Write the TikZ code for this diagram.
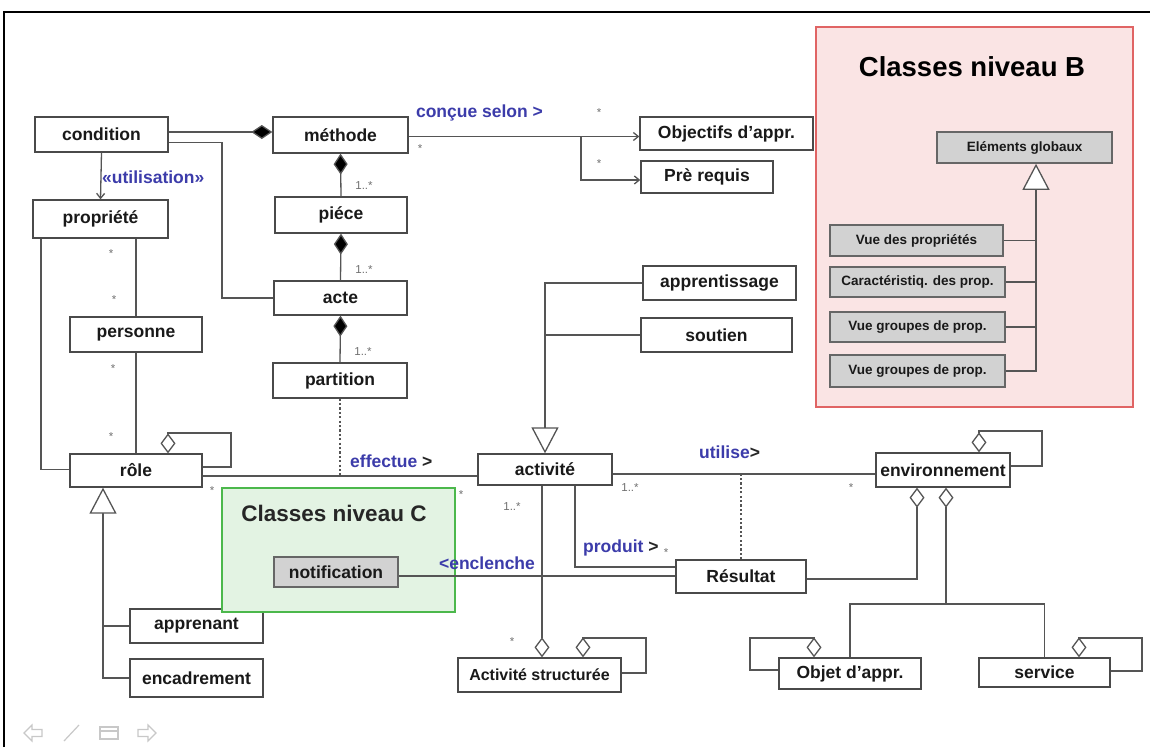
\documentclass[tikz,border=0pt]{standalone}
\usepackage{fontspec}
\setmainfont{Liberation Sans}
\usetikzlibrary{arrows.meta}
\definecolor{lnc}{HTML}{555555}
\definecolor{bdc}{HTML}{4A4A4A}
\definecolor{lblue}{RGB}{60,60,170}
\definecolor{multc}{HTML}{707070}
\definecolor{redfill}{HTML}{FAE4E4}
\definecolor{redline}{HTML}{E06464}
\definecolor{greenfill}{HTML}{E3F3E3}
\definecolor{greenline}{HTML}{4CB84C}
\definecolor{grayfill}{HTML}{D2D2D2}
\definecolor{navc}{HTML}{C8C8C8}
\newcommand\clsfont{\bfseries\fontsize{17.5}{20}\selectfont}
\newcommand\smcls{\bfseries\fontsize{13.5}{16}\selectfont}
\newcommand\lblfont{\bfseries\fontsize{17.5}{20}\selectfont}
\newcommand\multfont{\fontsize{11.5}{13}\selectfont}
\tikzset{
  cls/.style={draw=bdc, line width=1.3pt, fill=white, inner sep=0pt, font=\clsfont, text=black!90},
  gcls/.style={draw=black!60, line width=1.6pt, fill=grayfill, inner sep=0pt, font=\smcls, text=black!90},
  conn/.style={draw=lnc, line width=1.3pt},
  comp/.style={conn, -{Diamond[length=21pt,width=14pt,fill=black]}},
  agg/.style={conn, -{Diamond[open,length=20pt,width=15pt,fill=white]}},
  inh/.style={conn, -{Triangle[open,length=26pt,width=27pt,fill=white]}},
  nav/.style={conn, -{Straight Barb[length=5pt,width=8pt]}},
  dots/.style={draw=lnc, line width=1.6pt, dash pattern=on 2.2pt off 2.2pt},
  lbl/.style={font=\lblfont, text=lblue, inner sep=0pt},
  mult/.style={font=\multfont, text=multc, inner sep=0pt},
  navicon/.style={draw=navc, line width=1.2pt}
}
\begin{document}
\begin{tikzpicture}[x=1pt,y=-1pt]
\useasboundingbox (0,0) rectangle (1150,747);
\fill[white] (0,0) rectangle (1150,747);
% frame
\draw[line width=2.2pt, black] (4,747) -- (4,12) -- (1150,12);

% group boxes
\node[draw=redline, line width=1.8pt, fill=redfill, minimum width=317pt, minimum height=380pt, inner sep=0pt] (grpB) at (974.5,217) {};
\node[font=\bfseries\fontsize{27.5}{30}\selectfont, inner sep=0pt] (titB) at (972,67) {Classes niveau B};

% main classes
\node[cls, minimum width=133pt, minimum height=35pt] (condition) at (101.5,134.5) {condition};
\node[cls, minimum width=135pt, minimum height=36pt] (methode) at (340.5,135) {méthode};
\node[cls, minimum width=135pt, minimum height=38pt] (propriete) at (100.5,219) {propriété};
\node[cls, minimum width=132pt, minimum height=36pt] (piece) at (341,215) {piéce};
\node[cls, minimum width=133pt, minimum height=34pt] (acte) at (340.5,298) {acte};
\node[cls, minimum width=132pt, minimum height=35pt] (personne) at (136,334.5) {personne};
\node[cls, minimum width=134pt, minimum height=35pt] (partition) at (340,380.5) {partition};
\node[cls, minimum width=132pt, minimum height=33pt] (role) at (136,470.5) {rôle};
\node[cls, minimum width=173pt, minimum height=33pt] (objectifs) at (726.5,133.5) {Objectifs d'appr.};
\node[cls, minimum width=132pt, minimum height=32pt] (prereq) at (707,177) {Prè requis};
\node[cls, minimum width=153pt, minimum height=34pt] (apprentissage) at (719.5,283) {apprentissage};
\node[cls, minimum width=151pt, minimum height=34pt] (soutien) at (716.5,335) {soutien};
\node[cls, minimum width=134pt, minimum height=31pt] (activite) at (545,469.5) {activité};
\node[cls, minimum width=134pt, minimum height=34pt] (env) at (943,470) {environnement};
\node[cls, minimum width=130pt, minimum height=33pt] (resultat) at (741,576.5) {Résultat};
\node[cls, minimum width=142pt, minimum height=31pt] (objet) at (850,673.5) {Objet d'appr.};
\node[cls, minimum width=131pt, minimum height=29pt] (service) at (1044.5,672.5) {service};
\node[cls, minimum width=163pt, minimum height=34pt, font=\bfseries\fontsize{16}{19}\selectfont] (as) at (539.5,675) {Activité structurée};
\node[cls, minimum width=133pt, minimum height=34pt] (apprenant) at (196.5,626) {apprenant};
\node[cls, minimum width=133pt, minimum height=38pt] (encadrement) at (196.5,678) {encadrement};

% level B classes
\node[gcls, minimum width=175pt, minimum height=31pt] (globaux) at (1024.5,147.5) {Eléments globaux};
\node[gcls, minimum width=173pt, minimum height=31pt] (vprop) at (916.5,240.5) {Vue des propriétés};
\node[gcls, minimum width=175pt, minimum height=30pt] (carac) at (917.5,282) {Caractéristiq. des prop.};
\node[gcls, minimum width=175pt, minimum height=30pt] (vgrp1) at (917.5,327) {Vue groupes de prop.};
\node[gcls, minimum width=175pt, minimum height=32pt] (vgrp2) at (917.5,371) {Vue groupes de prop.};
\coordinate (bx) at (1036,300);
\draw[inh] (vgrp2.east) -| (globaux.south-|bx);
\draw[conn] (vprop.east) -- (vprop.east-|bx);
\draw[conn] (carac.east) -- (carac.east-|bx);
\draw[conn] (vgrp1.east) -- (vgrp1.east-|bx);

% connectors top
\coordinate (cm) at (200,132);
\draw[comp] (condition.east|-cm) -- (methode.west|-cm);
\coordinate (ca) at (222,298);
\draw[conn] ([yshift=-8pt]condition.east) -| (ca) -- (acte.west);
\draw[nav] (condition.south) -- (propriete.north);
\node[lbl, anchor=west] (utilisation) at (102,177) {«utilisation»};
\draw[comp] (piece.north) -- (methode.south);
\draw[comp] (acte.north) -- (piece.south);
\draw[comp] (partition.north) -- (acte.south);
\node[mult] (m1) at (364,186) {1..*};
\node[mult] (m2) at (364,270) {1..*};
\node[mult] (m3) at (363,352) {1..*};

\coordinate (mo) at (500,136.5);
\coordinate (br) at (581,136.5);
\draw[nav] (methode.east|-mo) -- (objectifs.west|-mo);
\coordinate (pr) at (600,180);
\draw[nav] (br) |- (prereq.west|-pr);
\node[lbl] (concue) at (479.5,113) {conçue selon >};
\node[mult] (s1) at (599,113) {*};
\node[mult] (s2) at (420,149) {*};
\node[mult] (s3) at (599,164) {*};

% left column
\draw[conn] ([xshift=-59.5pt]propriete.south) |- ([yshift=1pt]role.west);
\draw[conn] (propriete.south-|personne.north) -- (personne.north);
\draw[conn] (personne.south) -- (role.north);
\node[mult] (s4) at (111,254) {*};
\node[mult] (s5) at (114,300) {*};
\node[mult] (s6) at (113,369) {*};
\node[mult] (s7) at (111,437) {*};
\draw[agg] ([yshift=3.5pt]role.east) -| (231,433) -| ([xshift=32pt]role.north);
\draw[inh] (encadrement.west) -| ([xshift=-33pt]role.south);
\draw[conn] (apprenant.west) -- ++(-27,0);

% role - activite
\coordinate (ra) at (300,476);
\draw[conn] (role.east|-ra) -- (activite.west|-ra);
\draw[dots] (partition.south) -- (partition.south|-ra);
\node[lbl, anchor=west] (effectue) at (350,461) {effectue \textcolor{black!85}{>}};
\node[mult] (s8) at (212,491) {*};

% green group box C
\node[draw=greenline, line width=1.8pt, fill=greenfill, minimum width=233pt, minimum height=124pt, inner sep=0pt] (grpC) at (338.5,550) {};
\node[font=\bfseries\fontsize{22.5}{26}\selectfont, inner sep=0pt, text=black!85] (titC) at (334,513) {Classes niveau C};
\node[gcls, minimum width=124pt, minimum height=30pt, font=\clsfont] (notification) at (336,572) {notification};
\node[mult] (s9) at (461,495) {*};

% inheritance to activite
\draw[inh] (apprentissage.west) -| (activite.north);
\draw[conn] (soutien.west) -- (soutien.west-|activite.north);

% activite - environnement
\coordinate (ae) at (700,474);
\draw[conn] (activite.east|-ae) -- (env.west|-ae);
\draw[dots] (resultat.north) -- (resultat.north|-ae);
\node[lbl, anchor=west] (utilise) at (699,452) {utilise\textcolor{black!85}{>}};
\node[mult] (m4) at (630,488) {1..*};
\node[mult] (s10) at (851,488) {*};

% activite - resultat (produit)
\draw[conn] ([xshift=30pt]activite.south) |- ([yshift=9.5pt]resultat.west);
\node[lbl, anchor=west] (produit) at (583,548) {produit \textcolor{black!85}{>}};
\node[mult] (s11) at (666,553) {*};

% notification - resultat
\coordinate (nr) at (500,576);
\draw[conn] (notification.east|-nr) -- (resultat.west|-nr);
\node[lbl] (enclenche) at (487,563) {<enclenche};

% activite - activite structuree
\coordinate (aa) at (542,500);
\draw[agg] (activite.south-|aa) -- (as.north-|aa);
\node[mult] (m5) at (512,507) {1..*};
\node[mult] (s12) at (512,642) {*};
\draw[agg] ([yshift=2pt]as.east) -| (646,638) -| ([xshift=43.5pt]as.north);

% environnement
\draw[agg] ([yshift=4pt]env.east) -| (1042,431) -| ([xshift=36pt]env.north);
\draw[agg] ([yshift=-2.5pt]resultat.east) -| ([xshift=-26pt]env.south);
\coordinate (es) at (946,604);
\draw[agg] (es) -- ([xshift=3pt]env.south);
\draw[conn] (objet.north) |- (es) -| (service.north);
\draw[agg] ([yshift=3.5pt]objet.west) -| (750,638) -| ([xshift=-36pt]objet.north);
\draw[agg] ([yshift=1.5pt]service.east) -| (1142,638) -| ([xshift=34.5pt]service.north);

% navigation icons
\draw[navicon] (24,733) -- (32,725) -- (32,729.5) -- (42,729.5) -- (42,736.5) -- (32,736.5) -- (32,741) -- cycle;
\draw[navicon] (64,741) -- (79,725);
\draw[navicon] (100,727) rectangle (118,739);
\draw[navicon] (100,731) -- (118,731);
\draw[navicon] (156,733) -- (148,725) -- (148,729.5) -- (138,729.5) -- (138,736.5) -- (148,736.5) -- (148,741) -- cycle;
\end{tikzpicture}
\end{document}
